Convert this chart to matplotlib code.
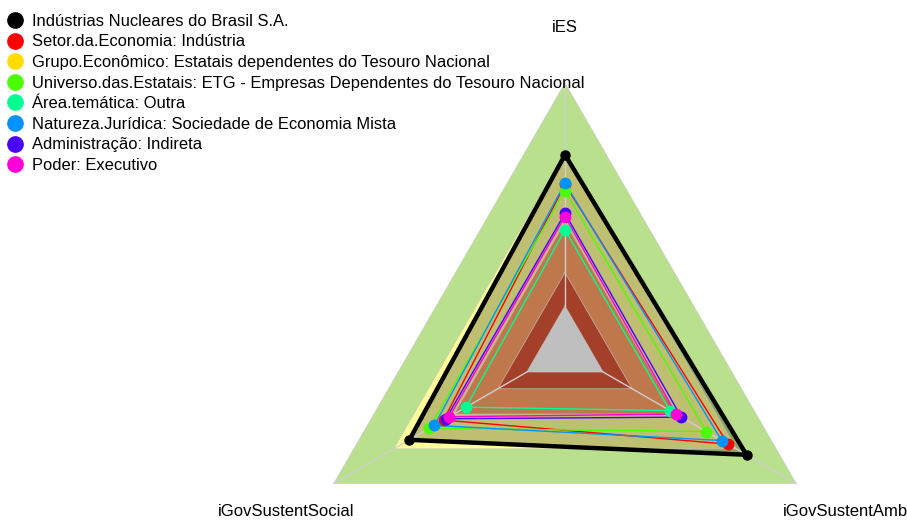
import numpy as np
import matplotlib
matplotlib.use("Agg")
import matplotlib.pyplot as plt
from matplotlib.lines import Line2D

plt.rcParams['font.family'] = ['Liberation Sans', 'DejaVu Sans']

# ---- data ----
axis_labels = ["iES", "iGovSustentAmb", "iGovSustentSocial"]   # clockwise from top

series_names = [
    "Indústrias Nucleares do Brasil S.A.",
    "Setor.da.Economia: Indústria",
    "Grupo.Econômico: Estatais dependentes do Tesouro Nacional",
    "Universo.das.Estatais: ETG - Empresas Dependentes do Tesouro Nacional",
    "Área.temática: Outra",
    "Natureza.Jurídica: Sociedade de Economia Mista",
    "Administração: Indireta",
    "Poder: Executivo",
]
series_colors = ["#000000", "#FF0000", "#FFDB00", "#49FF00",
                 "#00FF92", "#0092FF", "#4900FF", "#FF00DB"]

v_ines = [0.731, 0.785, 0.673]
v_setor = [0.620, 0.705, 0.525]
v_grupo = [0.731, 0.785, 0.673]
v_universo = [0.597, 0.611, 0.587]
v_area = [0.450, 0.454, 0.428]
v_natureza = [0.625, 0.678, 0.565]
v_admin = [0.512, 0.503, 0.515]
v_poder = [0.500, 0.480, 0.500]
series_values = [v_ines, v_setor, v_grupo, v_universo, v_area, v_natureza, v_admin, v_poder]

band_levels = [1.0, 0.74, 0.48, 0.29, 0.165]
band_colors = ["#B9E08C", "#FFFF99", "#FFA066", "#DC5538", "#FFFFFF"]

# ---- figure ----
W, H = 907, 521
fig = plt.figure(figsize=(W / 100, H / 100), dpi=100)
cx, cy, R = 565, 350, 267
ax = fig.add_axes([(cx - R) / W, (H - cy - R) / H, 2 * R / W, 2 * R / H], projection='polar')
ax.set_theta_offset(np.pi / 2)
ax.set_theta_direction(-1)
ax.set_ylim(0, 1)
ax.axis('off')

n = len(axis_labels)
theta = np.arange(n) * 2 * np.pi / n
closed_t = np.append(theta, theta[0])


def close(v):
    v = list(v)
    return np.array(v + [v[0]])


for lvl, col in zip(band_levels, band_colors):
    ax.fill(closed_t, close([lvl] * n), color=col, lw=0, zorder=1, clip_on=False)

# shading of the first series
ax.fill(closed_t, close(v_ines), color="black", alpha=0.25, lw=0, zorder=2, clip_on=False)

# grid
for lvl in band_levels:
    ax.plot(closed_t, close([lvl] * n), color="#C8C8C8", lw=0.6, alpha=0.7, zorder=3, clip_on=False)
for t in theta:
    ax.plot([t, t], [band_levels[-1], 1], color="#CFCFCF", lw=1.0, zorder=3, clip_on=False)

# series (others first, then the company on top)
order = list(range(1, len(series_names))) + [0]
for i in order:
    vals = close(series_values[i])
    if i == 0:
        ax.plot(closed_t, vals, color=series_colors[i], lw=3.2, zorder=6, clip_on=False)
        ax.plot(theta, series_values[i], 'o', color=series_colors[i], ms=6.5, zorder=7, clip_on=False)
    else:
        ms = 5.5 if i == 2 else 7.5
        ax.plot(closed_t, vals, color=series_colors[i], lw=1.0, zorder=4, clip_on=False)
        ax.plot(theta, series_values[i], 'o', color=series_colors[i], ms=ms, zorder=5, clip_on=False)

# axis labels
fig.text(565 / W, 1 - 27 / H, axis_labels[0], ha='center', va='center', fontsize=12)
fig.text(845 / W, 1 - 512 / H, axis_labels[1], ha='center', va='center', fontsize=12)
fig.text(286 / W, 1 - 512 / H, axis_labels[2], ha='center', va='center', fontsize=12)

# legend
handles = [Line2D([], [], marker='o', ls='none', color=c, ms=11) for c in series_colors]
fig.legend(handles, series_names, loc='upper left', bbox_to_anchor=(-4 / W, 1 - 2 / H),
           frameon=False, fontsize=11.85, borderaxespad=0.0, borderpad=0.72,
           handlelength=0.9, handletextpad=0.58, labelspacing=0.34)

fig.savefig("out.png", dpi=100)
